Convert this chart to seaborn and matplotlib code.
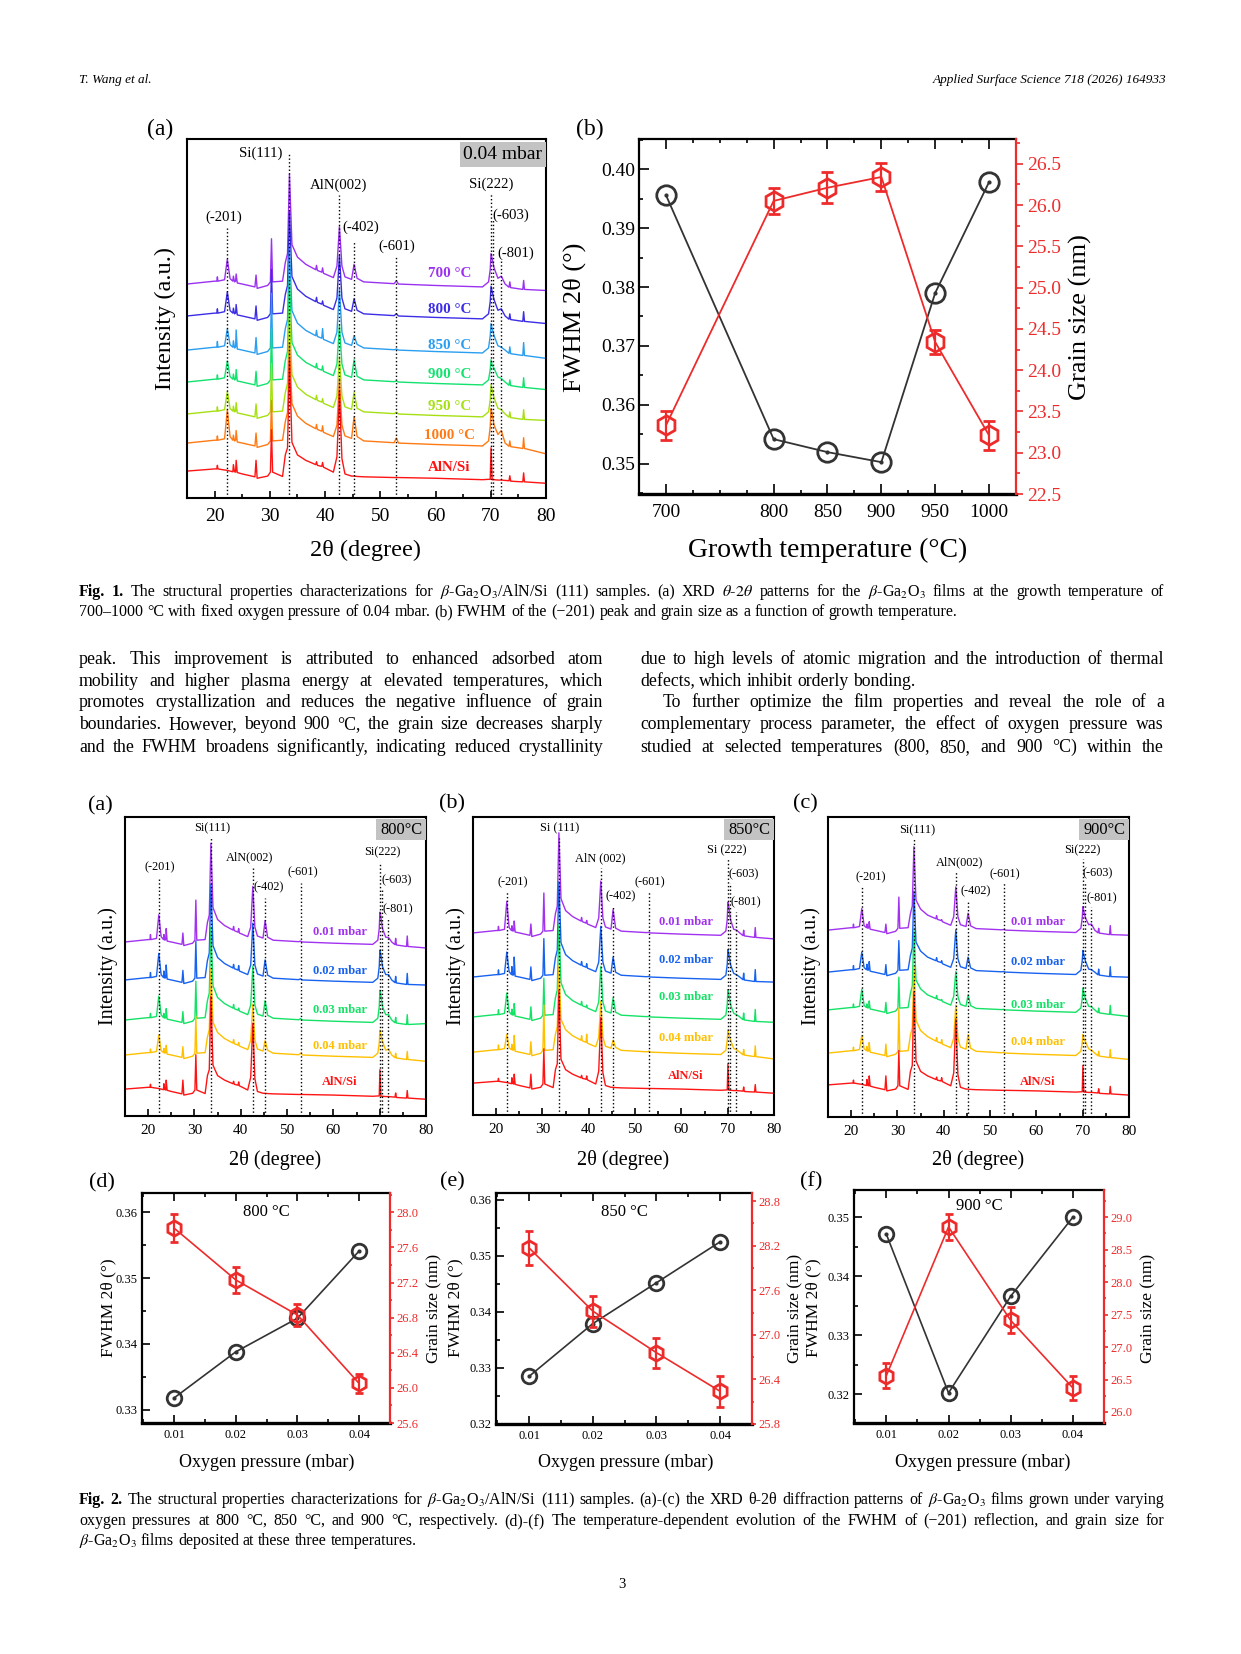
import numpy as np
import matplotlib
matplotlib.use("Agg")
import matplotlib.pyplot as plt
import seaborn as sns
from matplotlib.patches import Rectangle
from matplotlib.ticker import MultipleLocator, FormatStrFormatter

W, H = 1241, 1654

# ---------------- XRD traces: intensity in % of panel height, relative to the left end
two_theta = [15.0, 20.0, 20.4, 20.5, 20.6, 21.8, 22.3, 22.8, 23.3, 23.4, 23.6, 23.8, 23.9,
             24.1, 25.0, 27.3, 27.5, 27.7, 29.6, 30.1, 30.3, 30.5, 32.3, 32.8, 33.2, 33.55,
             34.0, 35.0, 36.5, 38.3, 38.45, 38.6, 39.4, 39.55, 39.7, 41.5, 42.15, 42.6, 43.05,
             43.6, 44.8, 45.25, 45.8, 47.0, 52.5, 52.9, 53.3, 60.0, 68.5, 69.6, 69.9, 70.05,
             70.25, 70.6, 71.3, 71.9, 72.6, 73.3, 73.45, 73.6, 74.5, 75.8, 75.95, 76.1, 80.0]

aln_si = [0, 0.6, 0.6, 1.6, 0.6, 0.3, 0.2, 0.0, -0.2, 1.8, -0.2, -0.3, 3.0,
          -0.4, -0.8, -1.6, 3.0, -2.0, -1.4, -0.3, 11.5, -0.3, -1.5, 4.5, 6.5, 31.0,
          8.0, 4.5, 3.0, 1.8, 2.6, 1.6, 1.3, 2.4, 1.1, -0.3, 4.0, 22.0, 3.5,
          -0.8, -1.4, -1.4, -1.5, -1.6, -1.8, -1.8, -1.8, -2.0, -2.4, -2.3, -2.3, 6.5,
          -2.4, -2.4, -2.5, -2.5, -2.6, -2.7, -1.3, -2.8, -2.9, -3.0, -0.5, -3.0, -3.4]

t700 = [0, 0.8, 0.8, 2.0, 0.8, 1.2, 6.9, 1.5, 0.8, 2.2, 0.6, 0.8, 2.8,
        0.3, 0.0, -0.8, 2.5, -1.2, -0.4, 0.6, 12.6, 0.6, 0.8, 6.0, 8.5, 30.7,
        11.0, 7.5, 5.5, 4.0, 5.2, 3.8, 3.3, 4.5, 3.0, 1.8, 5.0, 16.0, 5.0,
        2.0, 1.3, 5.5, 1.6, 0.6, 0.1, 0.9, 0.0, -0.4, -0.8, 0.6, 4.0, 8.5,
        7.0, 4.5, 1.6, 2.2, 0.0, -0.9, 0.6, -1.0, -1.2, -1.5, 1.0, -1.5, -1.8]
t800 = [0, 0.8, 0.8, 2.0, 0.8, 1.2, 6.7, 1.5, 0.8, 2.2, 0.6, 0.8, 3.2,
        0.3, 0.0, -0.8, 2.8, -1.2, -0.4, 0.6, 13.0, 0.6, 0.8, 6.0, 8.5, 29.0,
        11.0, 7.5, 5.5, 4.0, 5.2, 3.8, 3.3, 4.2, 3.0, 1.8, 5.0, 17.0, 5.0,
        2.0, 1.3, 4.8, 1.6, 0.6, 0.1, 0.6, 0.0, -0.4, -0.8, 0.6, 4.0, 8.3,
        6.8, 4.5, 1.6, 2.0, 0.0, -0.9, 0.6, -1.0, -1.2, -1.5, 1.2, -1.5, -2.1]
t850 = [0, 0.8, 0.8, 2.4, 0.8, 1.2, 5.9, 1.5, 0.8, 2.6, 0.6, 0.8, 5.6,
        0.3, 0.0, -0.8, 3.5, -1.2, -0.4, 0.6, 15.8, 0.6, 0.8, 6.0, 8.5, 29.0,
        11.0, 7.5, 5.5, 4.0, 5.5, 3.8, 3.3, 6.0, 3.0, 1.8, 5.0, 17.0, 5.0,
        2.0, 1.3, 4.0, 1.6, 0.6, 0.1, 0.3, 0.0, -0.4, -0.8, 0.6, 4.0, 7.4,
        5.9, 4.0, 1.2, 0.8, 0.0, -0.9, 0.9, -1.0, -1.2, -1.5, 2.1, -1.5, -2.3]
t900 = [0, 0.8, 0.8, 2.0, 0.8, 1.2, 5.9, 1.5, 0.8, 2.2, 0.6, 0.8, 3.5,
        0.3, 0.0, -0.8, 3.0, -1.2, -0.4, 0.6, 15.0, 0.6, 0.8, 6.0, 8.5, 29.0,
        11.0, 7.5, 5.5, 4.0, 5.2, 3.8, 3.3, 4.5, 3.0, 1.8, 5.0, 16.0, 5.0,
        2.0, 1.3, 6.2, 1.6, 0.6, 0.1, 0.3, 0.0, -0.4, -0.8, 0.6, 3.5, 6.2,
        4.7, 3.8, 1.4, 1.0, 0.0, -0.9, 0.6, -1.0, -1.2, -1.5, 1.2, -1.5, -2.1]
t950 = [0, 0.8, 0.8, 2.0, 0.8, 1.2, 6.3, 1.5, 0.8, 2.2, 0.6, 0.8, 3.2,
        0.3, 0.0, -0.8, 2.8, -1.2, -0.4, 0.6, 14.0, 0.6, 0.8, 6.0, 8.5, 29.0,
        11.0, 7.5, 5.5, 4.0, 5.2, 3.8, 3.3, 4.3, 3.0, 1.8, 5.0, 16.0, 5.0,
        2.0, 1.3, 6.0, 1.6, 0.6, 0.1, 0.5, 0.0, -0.4, -0.8, 0.6, 4.0, 8.2,
        6.7, 4.5, 1.6, 1.2, 0.0, -0.9, 0.6, -1.0, -1.2, -1.5, 1.2, -1.5, -1.8]
t1000 = [0, 0.8, 0.8, 2.0, 0.8, 1.2, 9.3, 1.8, 0.8, 2.2, 0.6, 0.8, 3.5,
         0.3, 0.0, -0.8, 2.8, -1.2, -0.4, 0.6, 11.9, 0.6, 0.8, 6.0, 8.5, 28.0,
         11.0, 7.5, 5.5, 4.0, 5.2, 3.8, 3.3, 4.8, 3.0, 1.8, 5.0, 18.0, 5.0,
         2.0, 1.3, 7.4, 1.8, 0.6, 0.1, 1.4, 0.0, -0.4, -0.8, 0.6, 4.5, 9.6,
         8.1, 5.0, 2.4, 3.5, 0.0, -0.9, 0.6, -1.0, -1.2, -1.5, 1.5, -1.5, -3.0]

p800_001 = [0, 0.8, 0.8, 2.5, 0.8, 1.2, 9.1, 1.8, 0.8, 2.5, 0.6, 0.8, 4.5,
            0.3, 0.0, -0.8, 3.0, -1.2, -0.4, 0.6, 14.0, 0.6, 0.8, 6.5, 9.0, 33.0,
            11.5, 7.5, 5.5, 4.0, 5.2, 3.8, 3.3, 4.5, 3.0, 1.8, 5.0, 18.6, 5.0,
            2.0, 1.3, 7.2, 1.6, 0.6, 0.1, 0.3, 0.0, -0.4, -0.8, 0.6, 4.5, 10.0,
            8.5, 4.5, 1.6, 1.5, 0.0, -0.9, 1.2, -1.0, -1.2, -1.5, 2.0, -1.5, -2.0]
p800_002 = [0, 0.8, 0.8, 2.5, 0.8, 1.2, 8.9, 1.8, 0.8, 3.0, 0.6, 0.8, 5.0,
            0.3, 0.0, -0.8, 3.2, -1.2, -0.4, 0.6, 13.0, 0.6, 0.8, 6.5, 9.0, 32.0,
            11.5, 7.5, 5.5, 4.0, 5.2, 3.8, 3.3, 4.8, 3.0, 1.8, 5.0, 19.0, 5.0,
            2.0, 1.3, 6.7, 1.6, 0.6, 0.1, 0.4, 0.0, -0.4, -0.8, 0.6, 4.5, 10.0,
            8.5, 4.5, 1.8, 1.8, 0.0, -0.9, 1.2, -1.0, -1.2, -1.5, 2.2, -1.5, -1.7]
p800_003 = [0, 0.8, 0.8, 2.2, 0.8, 1.2, 8.0, 1.8, 0.8, 2.2, 0.6, 0.8, 3.8,
            0.3, 0.0, -0.8, 2.8, -1.2, -0.4, 0.6, 13.0, 0.6, 0.8, 6.5, 9.0, 31.0,
            11.5, 7.5, 5.5, 4.0, 5.2, 3.8, 3.3, 4.0, 3.0, 1.8, 5.0, 18.0, 5.0,
            2.0, 1.3, 6.5, 1.6, 0.6, 0.1, 0.5, 0.0, -0.4, -0.8, 0.6, 4.5, 10.0,
            8.5, 4.5, 1.8, 1.8, 0.0, -0.9, 0.9, -1.0, -1.2, -1.5, 1.8, -1.5, -1.2]
p850_001 = [0, 0.8, 0.8, 2.2, 0.8, 1.2, 10.6, 1.8, 0.8, 2.4, 0.6, 0.8, 4.0,
            0.3, 0.0, -0.8, 3.0, -1.2, -0.4, 0.6, 13.4, 0.6, 0.8, 6.5, 9.0, 33.6,
            11.5, 7.5, 5.5, 4.0, 5.2, 3.8, 3.3, 4.2, 3.0, 1.8, 5.0, 17.4, 5.0,
            2.0, 1.3, 7.8, 1.6, 0.6, 0.1, 0.2, 0.0, -0.4, -0.8, 0.6, 4.5, 10.3,
            8.8, 4.5, 1.2, 1.0, 0.0, -0.9, 0.9, -1.0, -1.2, -1.5, 1.8, -1.5, -2.0]
p850_002 = [0, 0.8, 0.8, 2.4, 0.8, 1.2, 8.4, 1.8, 0.8, 3.5, 0.6, 0.8, 6.7,
            0.3, 0.0, -0.8, 3.4, -1.2, -0.4, 0.6, 12.9, 0.6, 0.8, 6.5, 9.0, 32.0,
            11.5, 7.5, 5.5, 4.0, 5.2, 3.8, 3.3, 4.5, 3.0, 1.8, 5.0, 17.0, 5.0,
            2.0, 1.3, 6.7, 1.6, 0.6, 0.1, 0.2, 0.0, -0.4, -0.8, 0.6, 4.2, 9.2,
            7.7, 4.2, 1.2, 0.8, 0.0, -0.9, 1.3, -1.0, -1.2, -1.5, 2.5, -1.5, -1.7]
p850_003 = [0, 0.8, 0.8, 2.4, 0.8, 1.2, 8.0, 1.8, 0.8, 2.6, 0.6, 0.8, 4.5,
            0.3, 0.0, -0.8, 3.4, -1.2, -0.4, 0.6, 13.0, 0.6, 0.8, 6.5, 9.0, 31.0,
            11.5, 7.5, 5.5, 4.0, 5.2, 3.8, 3.3, 4.0, 3.0, 1.8, 5.0, 17.0, 5.0,
            2.0, 1.3, 6.4, 1.6, 0.6, 0.1, 0.2, 0.0, -0.4, -0.8, 0.6, 4.2, 9.2,
            7.7, 4.2, 1.2, 0.8, 0.0, -0.9, 1.3, -1.0, -1.2, -1.5, 2.5, -1.5, -1.8]
p900_001 = [0, 0.8, 0.8, 2.0, 0.8, 1.2, 7.2, 1.5, 0.8, 2.0, 0.6, 0.8, 2.8,
            0.3, 0.0, -0.8, 2.0, -1.2, -0.4, 0.6, 11.0, 0.6, 0.8, 5.5, 8.0, 27.8,
            10.0, 7.0, 5.0, 3.8, 4.8, 3.6, 3.2, 3.5, 2.8, 1.6, 4.5, 14.4, 4.5,
            1.8, 1.2, 5.6, 1.4, 0.5, 0.1, 0.2, 0.0, -0.4, -0.8, 0.6, 4.0, 7.8,
            6.3, 4.0, 1.8, 2.0, 0.0, -0.9, 0.6, -1.0, -1.2, -1.5, 1.5, -1.5, -1.7]
p900_002 = [0, 0.8, 0.8, 2.2, 0.8, 1.2, 6.7, 1.5, 0.8, 2.6, 0.6, 0.8, 3.5,
            0.3, 0.0, -0.8, 2.5, -1.2, -0.4, 0.6, 10.5, 0.6, 0.8, 5.5, 8.0, 27.0,
            10.0, 7.0, 5.0, 3.8, 4.8, 3.6, 3.2, 3.8, 2.8, 1.6, 4.5, 14.1, 4.5,
            1.8, 1.2, 5.0, 1.4, 0.5, 0.1, 0.2, 0.0, -0.4, -0.8, 0.6, 3.8, 7.2,
            5.7, 3.6, 1.0, 0.8, 0.0, -0.9, 1.0, -1.0, -1.2, -1.5, 1.8, -1.5, -1.7]
p900_003 = [0, 0.8, 0.8, 2.0, 0.8, 1.2, 6.9, 1.5, 0.8, 2.0, 0.6, 0.8, 3.0,
            0.3, 0.0, -0.8, 2.5, -1.2, -0.4, 0.6, 10.9, 0.6, 0.8, 5.5, 8.0, 27.0,
            10.0, 7.0, 5.0, 3.8, 4.8, 3.6, 3.2, 3.5, 2.8, 1.6, 4.5, 12.8, 4.5,
            1.8, 1.2, 5.0, 1.4, 0.5, 0.1, 0.2, 0.0, -0.4, -0.8, 0.6, 3.8, 7.2,
            5.7, 3.6, 1.2, 1.0, 0.0, -0.9, 0.6, -1.0, -1.2, -1.5, 1.5, -1.5, -2.2]

temp_names = ['700 °C', '800 °C', '850 °C', '900 °C', '950 °C', '1000 °C', 'AlN/Si']
temp_colors = ['#9B32F0', '#3C2DE6', '#2A9EF0', '#12E26E', '#A6E012', '#FF7A14', '#FF1414']
pres_names = ['0.01 mbar', '0.02 mbar', '0.03 mbar', '0.04 mbar', 'AlN/Si']
pres_colors = ['#A232F0', '#1862F0', '#14E266', '#FFC000', '#FF1414']

peak_pos = [22.3, 33.5, 42.6, 45.2, 52.9, 70.0, 70.4, 71.9]
peak_names = ['(-201)', 'Si(111)', 'AlN(002)', '(-402)', '(-601)', 'Si(222)', '(-603)', '(-801)']
peak_names_sp = ['(-201)', 'Si (111)', 'AlN (002)', '(-402)', '(-601)', 'Si (222)', '(-603)', '(-801)']

# ---------------- FWHM / grain size
growth_temp = [700, 800, 850, 900, 950, 1000]
fwhm_temp = [0.3956, 0.3542, 0.3520, 0.3503, 0.3790, 0.3978]
grain_temp = [23.33, 26.05, 26.21, 26.34, 24.34, 23.21]
grain_temp_err = [0.17, 0.16, 0.19, 0.17, 0.15, 0.18]

oxygen = [0.01, 0.02, 0.03, 0.04]
fwhm_800 = [0.3318, 0.3388, 0.3439, 0.3541]
grain_800 = [27.82, 27.23, 26.83, 26.05]
grain_800_err = [0.16, 0.15, 0.13, 0.11]
fwhm_850 = [0.3285, 0.3379, 0.3452, 0.3525]
grain_850 = [28.17, 27.32, 26.76, 26.24]
grain_850_err = [0.23, 0.21, 0.20, 0.21]
fwhm_900 = [0.3471, 0.3202, 0.3366, 0.3500]
grain_900 = [26.56, 28.85, 27.41, 26.37]
grain_900_err = [0.19, 0.20, 0.20, 0.18]

DARK = '#333333'
RED = '#EE2B2B'

sns.set_style('ticks')
plt.rcParams['font.family'] = ['Liberation Serif', 'DejaVu Serif']
plt.rcParams['mathtext.fontset'] = 'stix'
plt.rcParams.update({'axes.edgecolor': 'black', 'xtick.color': 'black', 'ytick.color': 'black',
                     'text.color': 'black', 'axes.labelcolor': 'black'})

fig = plt.figure(figsize=(W / 100, H / 100), dpi=100)
fig.patch.set_facecolor('white')
renderer = fig.canvas.get_renderer()


def place(x0, y0, x1, y1):
    return fig.add_axes([x0 / W, 1 - y1 / H, (x1 - x0) / W, (y1 - y0) / H])


def ftext(x, y, s, **kw):
    kw.setdefault('ha', 'center')
    kw.setdefault('va', 'center')
    return fig.text(x / W, 1 - y / H, s, **kw)


def text_line(x0, x1, y, line, size, justify=True, bold_words=0, style='normal'):
    items = []
    for i, w in enumerate(line.split(' ')):
        t = fig.text(0, 1 - y / H, w, fontsize=size, va='baseline', style=style,
                     fontweight='bold' if i < bold_words else 'normal')
        items.append((t, t.get_window_extent(renderer).width))
    total = sum(wd for _, wd in items)
    gap = size * 100 / 72 * 0.25
    if justify and len(items) > 1:
        gap = max((x1 - x0 - total) / (len(items) - 1), 2)
    x = x0
    for t, wd in items:
        t.set_x(x / W)
        x += wd + gap


def xrd_panel(ax, curves, colors, names, offsets, name_x, name_y, name_size,
              labels, label_xy, line_tops, label_size, tag, tag_x0, tag_size, tick_size, pad):
    for vals, col, off in zip(curves, colors, offsets):
        sns.lineplot(x=two_theta, y=np.asarray(vals) + off, color=col, lw=1.0, ax=ax)
    ax.vlines(peak_pos, 0, line_tops, colors='black', linestyles=':', lw=1.0)
    for txt, (lx, ly) in zip(labels, label_xy):
        ax.text(lx, ly, txt, ha='center', va='center', fontsize=label_size)
    for nm, col, ny in zip(names, colors, name_y):
        ax.text(name_x, ny, nm, color=col, fontweight='bold', ha='center', va='center',
                fontsize=name_size)
    ax.add_patch(Rectangle((tag_x0, 0.922), 1 - tag_x0, 0.071, transform=ax.transAxes,
                           fc='#c3c3c3', ec='none', zorder=3))
    ax.text((1 + tag_x0) / 2, 0.957, tag, transform=ax.transAxes, ha='center', va='center',
            fontsize=tag_size, zorder=4)
    ax.set_xlim(15, 80)
    ax.set_ylim(0, 100)
    ax.set_yticks([])
    ax.xaxis.set_major_locator(MultipleLocator(10))
    ax.xaxis.set_minor_locator(MultipleLocator(5))
    ax.tick_params(axis='x', which='both', direction='in', top=False, labelsize=tick_size,
                   width=1.2, pad=pad)
    ax.tick_params(axis='x', which='major', length=5)
    ax.tick_params(axis='x', which='minor', length=3)
    for s in ax.spines.values():
        s.set_linewidth(1.5)
    ax.set_xlabel('')
    ax.set_ylabel('')


def dual_panel(ax, xs, fw, gs, gs_err, fw_lim, gs_lim, fw_step, gs_step, ms_c, ms_h, tick_size,
               cap, lw, rlen, rpad):
    sns.lineplot(x=xs, y=fw, color=DARK, lw=lw, marker='o', markersize=ms_c,
                 markerfacecolor='none', markeredgecolor=DARK, markeredgewidth=2.0, ax=ax)
    ax.plot(xs, fw, ls='none', marker='o', ms=2.0, color=DARK)
    ax.set_ylim(*fw_lim)
    ax.yaxis.set_major_locator(MultipleLocator(fw_step))
    ax.yaxis.set_minor_locator(MultipleLocator(fw_step / 2))
    ax.yaxis.set_major_formatter(FormatStrFormatter('%.2f'))
    ax.tick_params(axis='both', which='both', direction='in', labelsize=tick_size, width=1.2)
    ax.tick_params(axis='x', which='both', top=True)
    ax.tick_params(axis='y', which='both', right=False, pad=3)
    ax.tick_params(which='major', length=6)
    ax.tick_params(which='minor', length=3)
    ax2 = ax.twinx()
    ax2.errorbar(xs, gs, yerr=gs_err, color=RED, lw=lw, marker='h', ms=ms_h, mfc='none',
                 mec=RED, mew=2.0, capsize=cap, capthick=2.0, elinewidth=1.6)
    ax2.set_ylim(*gs_lim)
    ax2.yaxis.set_major_locator(MultipleLocator(gs_step))
    ax2.yaxis.set_minor_locator(MultipleLocator(gs_step / 2))
    ax2.yaxis.set_major_formatter(FormatStrFormatter('%.1f'))
    ax2.tick_params(axis='y', which='both', direction='out', colors=RED, labelsize=tick_size,
                    width=1.2, pad=rpad)
    ax2.tick_params(axis='y', which='major', length=rlen)
    ax2.tick_params(axis='y', which='minor', length=rlen * 0.6)
    for side in ['left', 'top', 'bottom']:
        ax2.spines[side].set_visible(False)
    ax.spines['right'].set_visible(False)
    ax2.spines['right'].set_color(RED)
    ax2.spines['right'].set_linewidth(1.6)
    for side in ['left', 'top']:
        ax.spines[side].set_linewidth(1.6)
    ax.spines['bottom'].set_linewidth(2.4)
    ax.set_xlabel('')
    ax.set_ylabel('')
    return ax2


# ---------------- header
ftext(79, 80, 'T. Wang et al.', ha='left', fontsize=9.5, style='italic')
ftext(1166, 80, 'Applied Surface Science 718 (2026) 164933', ha='right', fontsize=9.5,
      style='italic')

# ---------------- Fig. 1 (a)
ax = place(187, 139, 546, 498)
xrd_panel(ax, [t700, t800, t850, t900, t950, t1000, aln_si], temp_colors, temp_names,
          [59.6, 50.7, 41.2, 32.3, 23.4, 15.3, 7.5], 62.5,
          [62.4, 52.4, 42.6, 34.3, 25.6, 17.5, 8.6], 10.8,
          peak_names,
          [(21.6, 78.3), (28.3, 96.1), (42.5, 87.2), (46.5, 75.5), (53.0, 70.0), (70.0, 87.5),
           (73.7, 78.8), (74.6, 68.2)],
          [75.2, 96.0, 84.4, 71.3, 67.0, 85.0, 77.4, 66.0], 10.6,
          '0.04 mbar', 0.760, 14, 14, 7)
ftext(160, 129, '(a)', fontsize=17)
ftext(165, 318, 'Intensity (a.u.)', rotation=90, fontsize=17.5)
ftext(366, 550, '2θ (degree)', fontsize=17.5)

# ---------------- Fig. 1 (b)
ax = place(639, 139, 1016, 494)
ax.set_xlim(675, 1025)
ax.xaxis.set_major_locator(plt.FixedLocator(growth_temp))
ax.xaxis.set_minor_locator(MultipleLocator(25))
dual_panel(ax, growth_temp, fwhm_temp, grain_temp, grain_temp_err, (0.3449, 0.4051),
           (22.5, 26.8), 0.01, 0.5, 14, 14, 14, 4.5, 1.3, 5, 3)
ax.tick_params(axis='x', pad=7)
ax.tick_params(which='major', length=7)
ftext(590, 129, '(b)', fontsize=17)
ftext(574, 317, 'FWHM 2θ (°)', rotation=90, fontsize=19)
ftext(1080, 317, 'Grain size (nm)', rotation=90, fontsize=19)
ftext(828, 550, 'Growth temperature (°C)', fontsize=20)

# ---------------- captions and body text
cap1 = [r"Fig. 1. The structural properties characterizations for $\beta$-Ga$_2$O$_3$/AlN/Si (111) "
        r"samples. (a) XRD $\theta$-$2\theta$ patterns for the $\beta$-Ga$_2$O$_3$ films at the growth "
        r"temperature of",
        "700–1000 °C with fixed oxygen pressure of 0.04 mbar. (b) FWHM of the (−201) peak and grain "
        "size as a function of growth temperature."]
text_line(79, 1164, 596, cap1[0], 11.5, True, 2)
text_line(79, 1164, 616, cap1[1], 11.5, False)

body_left = ["peak. This improvement is attributed to enhanced adsorbed atom",
             "mobility and higher plasma energy at elevated temperatures, which",
             "promotes crystallization and reduces the negative influence of grain",
             "boundaries. However, beyond 900 °C, the grain size decreases sharply",
             "and the FWHM broadens significantly, indicating reduced crystallinity"]
body_right = ["due to high levels of atomic migration and the introduction of thermal",
              "defects, which inhibit orderly bonding.",
              "To further optimize the film properties and reveal the role of a",
              "complementary process parameter, the effect of oxygen pressure was",
              "studied at selected temperatures (800, 850, and 900 °C) within the"]
body_y = [664, 686, 707, 729, 752]
for yy, ln in zip(body_y, body_left):
    text_line(79, 603, yy, ln, 12.8)
for i, (yy, ln) in enumerate(zip(body_y, body_right)):
    text_line(663 if i == 2 else 640, 1164, yy, ln, 12.8, i != 1)

# ---------------- Fig. 2 (a)-(c)
xrd_specs = [
    ((125, 817, 426, 1116), [p800_001, p800_002, p800_003, t800, aln_si], '800°C',
     [58.2, 45.5, 32.1, 20.4, 9.0], 61.4, [61.5, 48.5, 35.5, 23.4, 11.4], peak_names,
     [(22.6, 83.3), (33.8, 96.3), (42.0, 86.6), (46.1, 76.6), (53.4, 81.6), (70.5, 88.3),
      (73.7, 78.9), (74.0, 69.2)], [80, 93, 83, 73, 78, 85, 76, 66], '(a)', (100, 806),
     (108, 966), (275, 1160)),
    ((473, 817, 774, 1115), [p850_001, p850_002, p850_003, t850, aln_si], '850°C',
     [61.1, 46.3, 32.9, 21.1, 10.7], 61.0, [64.8, 52.0, 39.6, 25.8, 13.1], peak_names_sp,
     [(23.6, 78.2), (33.8, 96.3), (42.4, 86.2), (47.0, 73.5), (53.2, 78.2), (69.8, 88.9),
      (73.5, 80.9), (73.9, 71.5)], [75, 93, 83, 70, 75, 86, 78, 68], '(b)', (452, 804),
     (456, 966), (623, 1160)),
    ((828, 817, 1129, 1117), [p900_001, p900_002, p900_003, t900, aln_si], '900°C',
     [62.3, 48.3, 35.7, 21.3, 10.7], 60.3, [65.0, 51.7, 37.3, 25.0, 11.7], peak_names,
     [(24.3, 80.0), (34.2, 95.7), (43.5, 85.0), (47.0, 75.3), (53.2, 81.0), (69.9, 89.0),
      (73.3, 81.3), (74.2, 73.0)], [77, 93, 82, 72, 78, 86, 78, 70], '(c)', (805, 804),
     (811, 966), (978, 1160)),
]
for (rect, curves, tag, offs, nx, ny, labs, lxy, tops, ptag, ptag_xy, ylab_xy,
     xlab_xy) in xrd_specs:
    ax = place(*rect)
    xrd_panel(ax, curves, pres_colors, pres_names, offs, nx, ny, 9, labs, lxy, tops, 8.8,
              tag, 0.834, 11.8, 11, 6)
    ftext(*ptag_xy, ptag, fontsize=16)
    ftext(*ylab_xy, 'Intensity (a.u.)', rotation=90, fontsize=14.5)
    ftext(*xlab_xy, '2θ (degree)', fontsize=14.5)

# ---------------- Fig. 2 (d)-(f)
dual_specs = [
    ((142, 1193, 390, 1423), fwhm_800, grain_800, grain_800_err, (0.3280, 0.3629),
     (25.6, 28.22), 0.4, '800 °C', 0.917, '(d)', (102, 1183), 108, 434, 267),
    ((496, 1193, 752, 1424), fwhm_850, grain_850, grain_850_err, (0.3200, 0.3612),
     (25.8, 28.91), 0.6, '850 °C', 0.917, '(e)', (452, 1182), 455, 795, 626),
    ((854, 1190, 1104, 1423), fwhm_900, grain_900, grain_900_err, (0.3151, 0.3546),
     (25.83, 29.42), 0.5, '900 °C', 0.93, '(f)', (811, 1182), 813, 1148, 983),
]
for (rect, fw, gs, ge, fwl, gsl, gstep, title, ty, ptag, ptag_xy, ylx, yrx,
     xlx) in dual_specs:
    ax = place(*rect)
    ax.set_xlim(0.0048, 0.045)
    ax.xaxis.set_major_locator(MultipleLocator(0.01))
    ax.xaxis.set_minor_locator(MultipleLocator(0.005))
    ax.xaxis.set_major_formatter(FormatStrFormatter('%.2f'))
    dual_panel(ax, oxygen, fw, gs, ge, fwl, gsl, 0.01, gstep, 10.5, 11, 9, 3, 1.2, 3, 1.5)
    ax.tick_params(axis='x', pad=4)
    ax.text(0.5, ty, title, transform=ax.transAxes, ha='center', va='center', fontsize=12)
    ftext(*ptag_xy, ptag, fontsize=16)
    ftext(ylx, 1308, 'FWHM 2θ (°)', rotation=90, fontsize=12.5)
    ftext(yrx, 1308, 'Grain size (nm)', rotation=90, fontsize=12.5)
    ftext(xlx, 1462, 'Oxygen pressure (mbar)', fontsize=13)

cap2 = [r"Fig. 2. The structural properties characterizations for $\beta$-Ga$_2$O$_3$/AlN/Si (111) "
        r"samples. (a)-(c) the XRD θ-2θ diffraction patterns of $\beta$-Ga$_2$O$_3$ films grown "
        r"under varying",
        "oxygen pressures at 800 °C, 850 °C, and 900 °C, respectively. (d)-(f) The "
        "temperature-dependent evolution of the FWHM of (−201) reflection, and grain size for",
        r"$\beta$-Ga$_2$O$_3$ films deposited at these three temperatures."]
text_line(79, 1164, 1504, cap2[0], 11.5, True, 2)
text_line(79, 1164, 1525, cap2[1], 11.5, True)
text_line(79, 1164, 1545, cap2[2], 11.5, False)

ftext(622, 1584, '3', fontsize=10.5)

fig.savefig('out.png', dpi=100, facecolor='white')
